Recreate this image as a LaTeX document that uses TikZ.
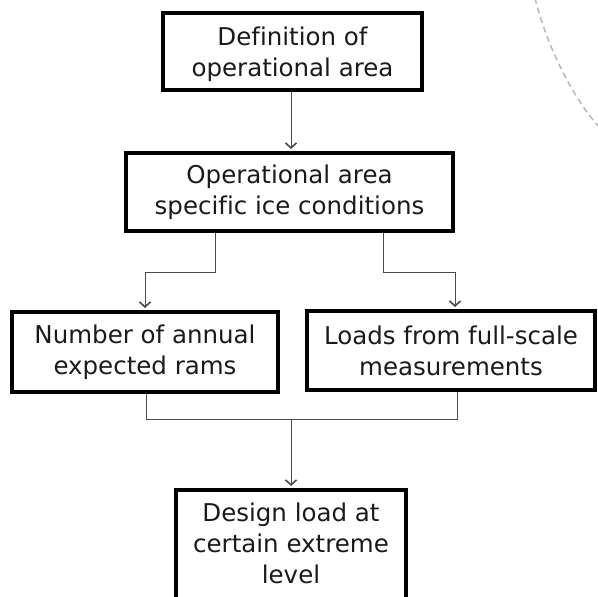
\documentclass[tikz,border=0pt]{standalone}
\usepackage{fontspec}
\setmainfont{DejaVu Sans}[Ligatures={NoCommon}]
\usetikzlibrary{arrows.meta}
\definecolor{txt}{HTML}{1A1A1A}
\definecolor{conn}{HTML}{4A4A4A}
\tikzset{
  boxtext/.style={align=center, text=txt, font=\fontsize{24.5}{31}\selectfont, inner sep=0pt},
  box/.style={boxtext, draw=black, line width=4pt, fill=white},
  link/.style={draw=conn, line width=0.9pt},
  arr/.style={link, -{Straight Barb[length=5pt,width=11pt,line width=1.6pt]}, shorten >=2pt}
}
\begin{document}
\begin{tikzpicture}[x=1pt,y=-1pt]
\useasboundingbox (0,0) rectangle (598,597);
\fill[white] (0,0) rectangle (598,597);
\draw[gray!55, line width=1.5pt, dash pattern=on 6pt off 4pt]
  (535,-2) .. controls (545,40) and (570,95) .. (600,128);
\node[box, minimum width=259pt, minimum height=77pt, text depth=0pt] (b1) at (292.5,51.5)
  {Definition of\\operational area};
\node[box, minimum width=327pt, minimum height=78pt] (b2) at (289.5,192)
  {Operational area\\specific ice conditions};
\node[box, minimum width=266pt, minimum height=80pt] (b3) at (145,352)
  {Number of annual\\expected rams};
\node[box, minimum width=288pt, minimum height=79pt] (b4) at (451,350.5)
  {Loads from full-scale\\measurements};
\node[box, minimum width=230pt, minimum height=124pt, anchor=north] (b5) at (291,488) {};
\node[boxtext] (b5t) at ([yshift=9pt]b5.center)
  {Design load at\\certain extreme\\level};
\coordinate (lb) at (215,272);
\coordinate (rb) at (383,272);
\coordinate (la) at (145,272);
\coordinate (ra) at (455,272);
\coordinate (m) at (291,419);
\coordinate (ld) at (146,419);
\coordinate (rd) at (457,419);
\draw[arr] (b1.south -| m) -- (b2.north -| m);
\draw[link] (b2.south -| lb) -- (lb) -- (la);
\draw[arr] (la) -- (b3.north -| la);
\draw[link] (b2.south -| rb) -- (rb) -- (ra);
\draw[arr] (ra) -- (b4.north -| ra);
\draw[link] (b3.south -| ld) -- (ld) -- (rd) -- (b4.south -| rd);
\draw[arr] (m) -- (b5.north);
\end{tikzpicture}
\end{document}
